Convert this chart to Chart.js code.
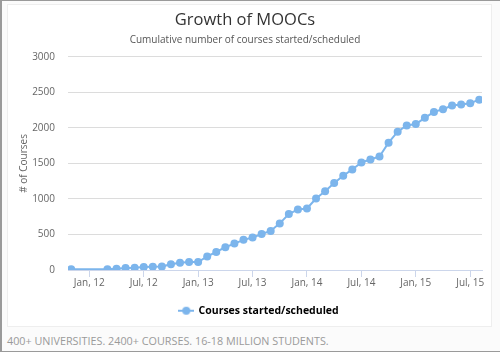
<!DOCTYPE html>
<html>
<head>
<meta charset="utf-8">
<script src="https://cdn.jsdelivr.net/npm/chart.js@4.4.0/dist/chart.umd.min.js"></script>
<style>
  html, body { margin: 0; padding: 0; }
  body { width: 500px; height: 352px; position: relative; background: #fbfbfb; overflow: hidden; }
  #frame { position: absolute; left: 0; top: 0; width: 498px; height: 350px; border: 1px solid #9a9a9a; border-left-width: 2px; box-sizing: content-box; }
  #panel { position: absolute; left: 8px; top: 5px; width: 483px; height: 321px; background: #fff; box-shadow: 0 0 0 1px #eeeeee; }
  #footer { position: absolute; left: 7px; top: 333px; font: 10.8px "Open Sans", sans-serif; color: #9a9a9a; white-space: nowrap; }
</style>
</head>
<body>
<div id="frame"></div>
<div id="panel"><canvas id="mooc_chart" width="483" height="321"></canvas></div>
<div id="footer">400+ UNIVERSITIES. 2400+ COURSES. 16-18 MILLION STUDENTS.</div>
<script>
// months (yyyy-mm) and cumulative number of courses
var months = [
  "2011-11", "2012-03", "2012-04", "2012-05", "2012-06", "2012-07", "2012-08", "2012-09",
  "2012-10", "2012-11", "2012-12", "2013-01", "2013-02", "2013-03", "2013-04", "2013-05",
  "2013-06", "2013-07", "2013-08", "2013-09", "2013-10", "2013-11", "2013-12", "2014-01",
  "2014-02", "2014-03", "2014-04", "2014-05", "2014-06", "2014-07", "2014-08", "2014-09",
  "2014-10", "2014-11", "2014-12", "2015-01", "2015-02", "2015-03", "2015-04", "2015-05",
  "2015-06", "2015-07", "2015-08"
];
var courses = [
  10, 10, 16, 28, 30, 42, 46, 48,
  80, 102, 112, 112, 190, 255, 320, 372,
  424, 456, 507, 549, 656, 787, 852, 866,
  1005, 1108, 1224, 1327, 1415, 1513, 1555, 1597,
  1792, 1946, 2034, 2053, 2141, 2225, 2262, 2314,
  2328, 2346, 2397
];
var tickMonths = ["2012-01", "2012-07", "2013-01", "2013-07", "2014-01", "2014-07", "2015-01", "2015-07"];
var tickLabels = ["Jan, 12", "Jul, 12", "Jan, 13", "Jul, 13", "Jan, 14", "Jul, 14", "Jan, 15", "Jul, 15"];
var yTicks = [0, 500, 1000, 1500, 2000, 2500, 3000];

var lineColor = "#7cb5ec";

// month count from Jan 2012
function monthIndex(s) {
  var p = s.split("-");
  return (parseInt(p[0]) - 2012) * 12 + (parseInt(p[1]) - 1);
}

var points = months.map(function(m, i){ return {x: monthIndex(m), y: courses[i]}; });
var tickPos = tickMonths.map(monthIndex);

// legend marker: short line with a dot
var marker = document.createElement("canvas");
marker.width = 16; marker.height = 10;
var mctx = marker.getContext("2d");
mctx.strokeStyle = lineColor; mctx.lineWidth = 2;
mctx.beginPath(); mctx.moveTo(0, 5); mctx.lineTo(16, 5); mctx.stroke();
mctx.fillStyle = lineColor;
mctx.beginPath(); mctx.arc(8, 5, 4, 0, Math.PI * 2); mctx.fill();

var font = "'Open Sans', sans-serif";

// nudge the legend a bit to the right, like the original
var legendShift = {
  id: "legendShift",
  afterLayout: function(chart) {
    chart.legend.left += 14;
    chart.legend.right += 14;
  }
};

new Chart("mooc_chart", {
  type: "line",
  data: {
    datasets: [{
      label: "Courses started/scheduled",
      data: points,
      borderColor: lineColor,
      backgroundColor: lineColor,
      borderWidth: 2,
      pointRadius: 4,
      pointHoverRadius: 5,
      pointBorderWidth: 0,
      pointBackgroundColor: lineColor,
      tension: 0
    }]
  },
  plugins: [legendShift],
  options: {
    responsive: false,
    animation: false,
    layout: { padding: { left: 0, right: 9, top: 0, bottom: 0 } },
    plugins: {
      title: {
        display: true,
        text: "Growth of MOOCs",
        color: "#333333",
        font: { family: font, size: 16.5, weight: "normal" },
        padding: { top: 5, bottom: 0 }
      },
      subtitle: {
        display: true,
        text: "Cumulative number of courses started/scheduled",
        color: "#555555",
        font: { family: font, size: 10 },
        padding: { top: 4, bottom: 11 }
      },
      legend: {
        position: "bottom",
        labels: {
          usePointStyle: true,
          pointStyleWidth: 14,
          padding: 9,
          color: "#333333",
          font: { family: font, size: 10.5, weight: "bold" },
          generateLabels: function(chart) {
            var ds = chart.data.datasets[0];
            return [{ text: ds.label, pointStyle: marker, fillStyle: lineColor, strokeStyle: lineColor, lineWidth: 0, datasetIndex: 0 }];
          }
        }
      },
      tooltip: { enabled: false }
    },
    scales: {
      x: {
        type: "linear",
        min: -2.35,
        max: 43.3,
        afterBuildTicks: function(scale) {
          scale.ticks = tickPos.map(function(v){ return {value: v}; });
        },
        afterFit: function(scale) { scale.height = 26.5; },
        ticks: {
          autoSkip: false,
          maxRotation: 0,
          padding: 0,
          color: "#666666",
          font: { family: font, size: 10 },
          callback: function(v) {
            var i = tickPos.indexOf(v);
            return i >= 0 ? tickLabels[i] : "";
          }
        },
        grid: { drawOnChartArea: false, drawTicks: true, tickLength: 7, color: "#ccd6eb" },
        border: { display: true, color: "#ccd6eb", width: 1 }
      },
      y: {
        min: 0,
        max: 3000,
        afterBuildTicks: function(scale) {
          scale.ticks = yTicks.map(function(v){ return {value: v}; });
        },
        afterFit: function(scale) { scale.width = 60; },
        ticks: {
          padding: 13,
          color: "#666666",
          font: { family: font, size: 10 },
          callback: function(v) { return String(v); }
        },
        grid: { color: "#dcdcdc", drawTicks: false },
        border: { display: false },
        title: {
          display: true,
          text: "# of Courses",
          color: "#666666",
          font: { family: font, size: 10 },
          padding: { top: 10, bottom: 0 }
        }
      }
    }
  }
});
</script>
</body>
</html>
